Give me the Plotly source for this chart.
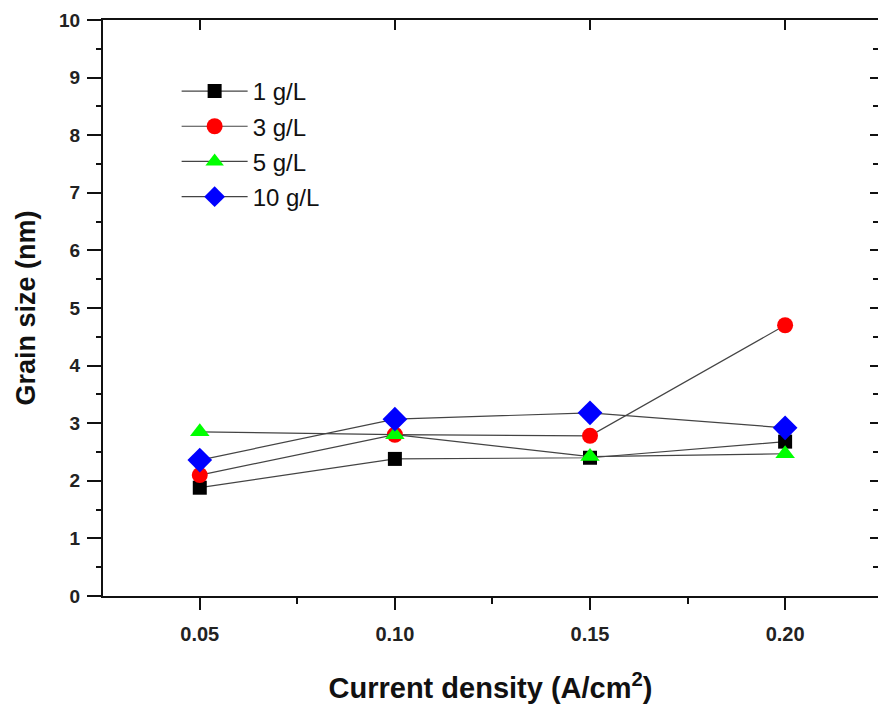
import plotly.graph_objects as go

current_density = [0.05, 0.10, 0.15, 0.20]
series_names = ["1 g/L", "3 g/L", "5 g/L", "10 g/L"]
grain_1 = [1.88, 2.38, 2.40, 2.68]
grain_3 = [2.10, 2.80, 2.78, 4.70]
grain_5 = [2.85, 2.80, 2.42, 2.47]
grain_10 = [2.36, 3.07, 3.18, 2.92]

series_values = [grain_1, grain_3, grain_5, grain_10]
colors = ["#000000", "#ff0000", "#00ff00", "#0000ff"]
symbols = ["square", "circle", "triangle-up", "diamond"]
sizes = [14, 16, 17, 19]

xrange = [0.0252, 0.2238]
yrange = [0, 10]
font_family = "Arial, Liberation Sans, sans-serif"

fig = go.Figure()
for name, vals, c, s, sz in zip(series_names, series_values, colors, symbols, sizes):
    fig.add_trace(go.Scatter(
        x=current_density, y=vals, name=name, mode="lines+markers",
        line=dict(color="#444444", width=1.2),
        marker=dict(color=c, symbol=s, size=sz, line=dict(width=0)),
        legendgroup=name,
    ))
# helper trace so the top/right overlay axes are drawn
fig.add_trace(go.Scatter(x=[], y=[], xaxis="x2", yaxis="y2", showlegend=False))

xtickfont = dict(family=font_family, size=20, color="#222222", weight="bold")
ytickfont = dict(family=font_family, size=19, color="#222222", weight="bold")

fig.update_layout(
    width=878, height=713,
    margin=dict(l=103, r=0, t=20, b=117),
    paper_bgcolor="white", plot_bgcolor="white",
    showlegend=True,
    legend=dict(x=0.095, y=0.915, xanchor="left", yanchor="top",
                font=dict(family=font_family, size=24, color="#111111"),
                bgcolor="rgba(0,0,0,0)", itemwidth=66,
                traceorder="grouped", tracegroupgap=1),
    xaxis=dict(range=xrange, tickvals=[0.05, 0.10, 0.15, 0.20],
               ticktext=["0.05", "0.10", "0.15", "0.20"],
               ticks="outside", ticklen=12, tickwidth=2, tickcolor="#111",
               ticklabelstandoff=7,
               minor=dict(tickvals=[0.025, 0.075, 0.125, 0.175], ticks="outside",
                          ticklen=6, tickwidth=2, tickcolor="#111"),
               showline=True, linewidth=2, linecolor="#111", showgrid=False, zeroline=False,
               tickfont=xtickfont,
               title=dict(text="Current density (A/cm<sup>2</sup>)",
                          font=dict(family=font_family, size=29, color="#111", weight="bold"),
                          standoff=34)),
    yaxis=dict(range=yrange, tickvals=list(range(0, 11)),
               ticks="outside", ticklen=14, tickwidth=2, tickcolor="#111",
               ticklabelstandoff=3,
               minor=dict(dtick=0.5, ticks="outside", ticklen=5, tickwidth=2, tickcolor="#111"),
               showline=True, linewidth=2, linecolor="#111", showgrid=False, zeroline=False,
               tickfont=ytickfont,
               title=dict(text="Grain size (nm)",
                          font=dict(family=font_family, size=27, color="#111", weight="bold"),
                          standoff=16)),
    xaxis2=dict(overlaying="x", side="top", anchor="y", range=xrange,
                tickvals=[0.05, 0.10, 0.15, 0.20], ticks="inside", ticklen=10, tickwidth=2,
                tickcolor="#111", showticklabels=False, showline=True, linewidth=2,
                linecolor="#111", showgrid=False, zeroline=False),
    yaxis2=dict(overlaying="y", side="right", anchor="x", range=yrange,
                tickvals=list(range(0, 11)), ticks="inside", ticklen=8, tickwidth=2,
                tickcolor="#111",
                minor=dict(dtick=0.5, ticks="inside", ticklen=5, tickwidth=2, tickcolor="#111"),
                showticklabels=False, showline=False, showgrid=False, zeroline=False),
)

fig.write_html("out.html")
